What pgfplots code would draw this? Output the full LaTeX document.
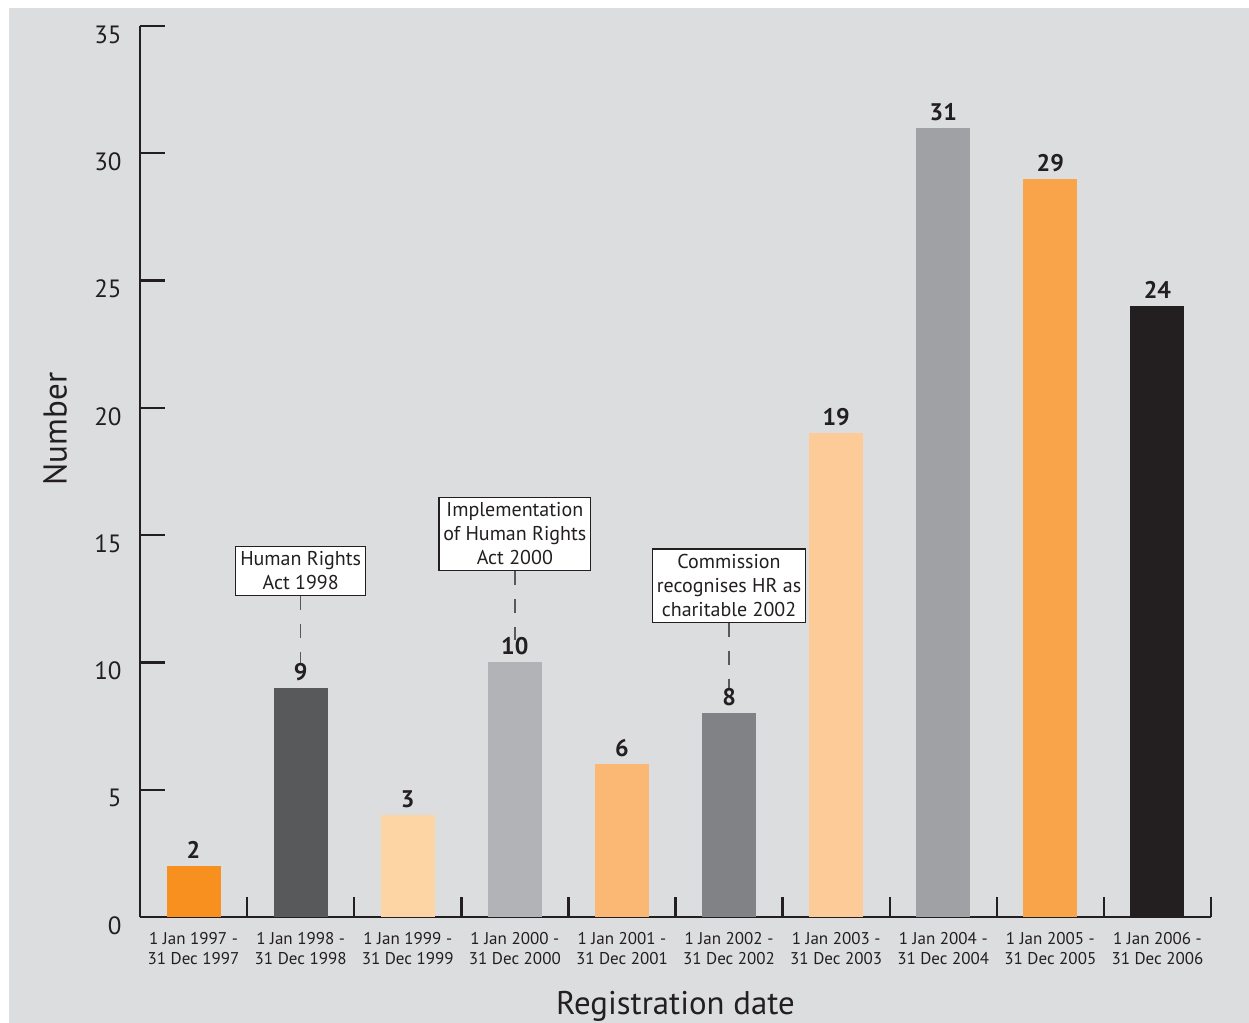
\documentclass[border=0pt]{standalone}
\usepackage{pgfplots}
\pgfplotsset{compat=1.18}
\usepackage{fontspec}
\setmainfont{PT Sans}
\definecolor{bg}{HTML}{DCDDDF}
\definecolor{axc}{HTML}{231F20}
\definecolor{c1}{HTML}{F7901E}
\definecolor{c2}{HTML}{58595B}
\definecolor{c3}{HTML}{FDD5A5}
\definecolor{c4}{HTML}{B1B3B6}
\definecolor{c5}{HTML}{FBB874}
\definecolor{c6}{HTML}{808285}
\definecolor{c7}{HTML}{FDCB97}
\definecolor{c8}{HTML}{A0A1A4}
\definecolor{c9}{HTML}{F9A44B}
\definecolor{c10}{HTML}{231F20}
\tikzset{
  annbox/.style={draw=axc, line width=0.6pt, fill=white, align=center, text=axc,
    font=\fontsize{10}{12}\selectfont, inner xsep=2.2pt, inner ysep=2.7pt, anchor=south},
  anndash/.style={draw=c2, line width=0.7pt, dash pattern=on 7pt off 7pt}
}
\begin{document}
\begin{tikzpicture}
\useasboundingbox (0,0) rectangle (624.5pt,511.5pt);
\fill[white] (0,0) rectangle (624.5pt,511.5pt);
\fill[bg] (4.5pt,0) rectangle (624.5pt,507.5pt);
\begin{axis}[
  ybar, bar width=27pt, bar shift=0pt,
  at={(70pt,53pt)}, anchor=south west,
  scale only axis, width=535.5pt, height=445.5pt,
  xmin=0, xmax=10, ymin=0, ymax=35,
  clip=false,
  axis lines=left,
  axis line style={-, line width=1.2pt, draw=axc},
  every tick/.style={line width=1.2pt, draw=axc},
  tick align=inside,
  xtick={0.5,1.5,2.5,3.5,4.5,5.5,6.5,7.5,8.5,9.5},
  xticklabels={{1 Jan 1997 -\\31 Dec 1997},{1 Jan 1998 -\\31 Dec 1998},{1 Jan 1999 -\\31 Dec 1999},{1 Jan 2000 -\\31 Dec 2000},{1 Jan 2001 -\\31 Dec 2001},{1 Jan 2002 -\\31 Dec 2002},{1 Jan 2003 -\\31 Dec 2003},{1 Jan 2004 -\\31 Dec 2004},{1 Jan 2005 -\\31 Dec 2005},{1 Jan 2006 -\\31 Dec 2006}},
  major x tick style={draw=none},
  minor xtick={1,2,3,4,5,6,7,8,9,10},
  minor tick length=10pt,
  ytick={0,5,10,15,20,25,30,35},
  major tick length=12.5pt,
  xticklabel style={align=center, font=\fontsize{8.5}{10}\selectfont, text=axc, inner sep=0pt, yshift=-7.5pt},
  yticklabel style={font=\fontsize{12.5}{14}\selectfont, text=axc, inner sep=0pt, xshift=-9pt, yshift=-4.3pt},
  /pgf/number format/assume math mode=true,
  xlabel={Registration date},
  xlabel style={at={(axis description cs:0.5,0)}, anchor=center, yshift=-44.5pt, font=\fontsize{16.4}{19}\selectfont, text=axc},
  nodes near coords,
  every node near coord/.append style={font=\bfseries\fontsize{12}{12}\selectfont, text=axc, inner sep=0pt, yshift=3.5pt},
]
\addplot[fill=c1, draw=none] coordinates {(0.5,2)};
\addplot[fill=c2, draw=none] coordinates {(1.5,9)};
\addplot[fill=c3, draw=none, nodes near coords={3}] coordinates {(2.5,4)};
\addplot[fill=c4, draw=none] coordinates {(3.5,10)};
\addplot[fill=c5, draw=none] coordinates {(4.5,6)};
\addplot[fill=c6, draw=none] coordinates {(5.5,8)};
\addplot[fill=c7, draw=none] coordinates {(6.5,19)};
\addplot[fill=c8, draw=none] coordinates {(7.5,31)};
\addplot[fill=c9, draw=none] coordinates {(8.5,29)};
\addplot[fill=c10, draw=none] coordinates {(9.5,24)};
\draw[anndash] (axis cs:1.5,12.61) -- (axis cs:1.5,9.9);
\node[annbox] at (axis cs:1.5,12.61) {Human Rights\\Act 1998};
\draw[anndash] (axis cs:3.5,13.59) -- (axis cs:3.5,10.88);
\node[annbox] at (axis cs:3.5,13.59) {Implementation\\of Human Rights\\Act 2000};
\draw[anndash] (axis cs:5.5,11.55) -- (axis cs:5.5,8.92);
\node[annbox] at (axis cs:5.5,11.55) {Commission\\recognises HR as\\charitable 2002};
\end{axis}
\node[rotate=90, font=\fontsize{16.5}{19}\selectfont, text=axc] at (27.5pt,297pt) {Number};
\end{tikzpicture}
\end{document}
